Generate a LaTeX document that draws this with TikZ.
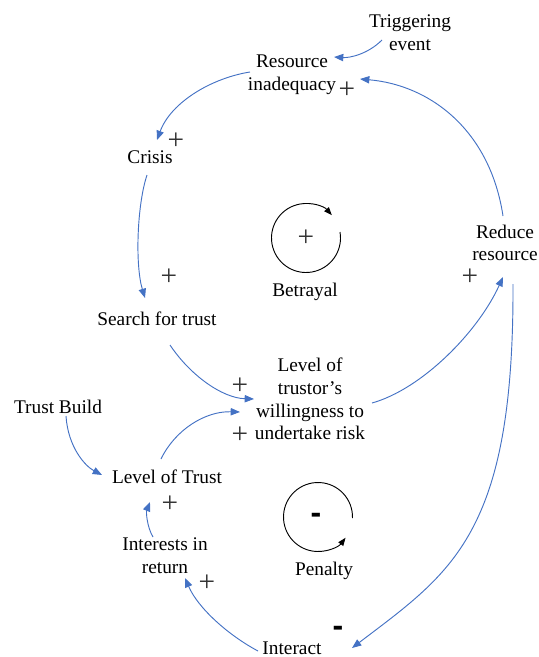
\documentclass[tikz,border=0pt]{standalone}
\usepackage{fontspec}
\setmainfont{Liberation Serif}
\newfontfamily\signfont{Liberation Sans}
\usetikzlibrary{arrows.meta}
\definecolor{linkblue}{HTML}{4472C4}
\begin{document}
\begin{tikzpicture}[x=0.75pt,y=-0.75pt,
  lbl/.style={font=\fontsize{14.5}{17}\selectfont, align=center, inner sep=0pt},
  plus/.style={font=\fontsize{22}{22}\selectfont, text=black!80, inner sep=0pt},
  minus/.style={font=\signfont\bfseries\fontsize{24}{24}\selectfont, inner sep=0pt},
  link/.style={draw=linkblue, line width=0.7pt, -{Triangle[length=7pt,width=5.5pt]}},
  loop/.style={draw=black, line width=0.7pt, -{Triangle[length=6pt,width=4.5pt]}}]
\useasboundingbox (0,0) rectangle (539,657);

% variables
\node[lbl] (trig) at (410,33) {Triggering\\event};
\node[lbl] (res) at (292,75) {Resource\\inadequacy};
\node[lbl] (crisis) at (150,157) {Crisis};
\node[lbl] (search) at (157,319) {Search for trust};
\node[lbl] (will) at (310,399) {Level of\\trustor’s\\willingness to\\undertake risk};
\node[lbl] (tb) at (58,407) {Trust Build};
\node[lbl] (lot) at (167,477) {Level of Trust};
\node[lbl] (ir) at (165,556) {Interests in\\return};
\node[lbl] (interact) at (292,648) {Interact};
\node[lbl] (reduce) at (505,243) {Reduce\\resource};

% loops
\coordinate (bc) at (306,238);
\coordinate (pc) at (318,517);
\draw[loop] (bc) ++(-10:34.5) arc[start angle=-10, end angle=318.5, radius=34.5];
\node[plus] (bplus) at (bc) {+};
\node[lbl] (betrayal) at (305,292) {Betrayal};
\draw[loop] (pc) ++(2:34.5) arc[start angle=2, end angle=-323, radius=34.5];
\node[minus] (pminus) at (316,518) {-};
\node[lbl] (penalty) at (324,571) {Penalty};

% polarity signs
\node[plus] (s1) at (347,90) {+};
\node[plus] (s2) at (176,141) {+};
\node[plus] (s3) at (169,277) {+};
\node[plus] (s4) at (240,386) {+};
\node[plus] (s5) at (240,435) {+};
\node[plus] (s6) at (470,277) {+};
\node[plus] (s7) at (170,504) {+};
\node[plus] (s8) at (207,583) {+};
\node[minus] (s9) at (338,631) {-};

% links
\draw[link] ([shift={(-28,7)}]trig.center) .. controls (368,54) and (350,58) .. ([shift={(42,-18)}]res.center);
\draw[link] ([shift={(-42,-3)}]res.center) .. controls (212,78) and (171,102) .. ([shift={(7,-17)}]crisis.center);
\draw[link] ([shift={(-3,18)}]crisis.center) .. controls (137,205) and (135,265) .. ([shift={(-12,-21)}]search.center);
\draw[link] ([shift={(13,26)}]search.center) .. controls (190,375) and (222,398) .. ([shift={(-56,0)}]will.center);
\draw[link] ([shift={(-6,-18)}]lot.center) .. controls (175,430) and (205,411) .. ([shift={(-70,13)}]will.center);
\draw[link] ([shift={(8,9)}]tb.center) .. controls (68,447) and (85,466) .. ([shift={(-65,-2)}]lot.center);
\draw[link] ([shift={(-12,-19)}]ir.center) .. controls (147,527) and (146,512) .. ([shift={(-17,25)}]lot.center);
\draw[link] ([shift={(-34,3)}]interact.center) .. controls (228,635) and (198,608) .. ([shift={(20,22)}]ir.center);
\draw[link] ([shift={(8,41)}]reduce.center) .. controls (514,534) and (452,572) .. ([shift={(60,0)}]interact.center);
\draw[link] ([shift={(62,4)}]will.center) .. controls (422,389) and (478,332) .. ([shift={(-2,34)}]reduce.center);
\draw[link] ([shift={(-2,-27)}]reduce.center) .. controls (490,130) and (430,85) .. ([shift={(68,4)}]res.center);
\end{tikzpicture}
\end{document}
